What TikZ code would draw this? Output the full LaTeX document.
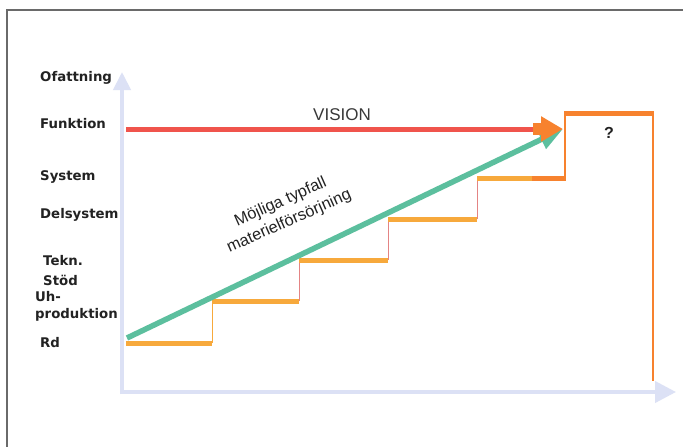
\documentclass[tikz,border=0pt]{standalone}
\usepackage{fontspec}
\setmainfont{Liberation Sans}
\newfontfamily\labfont{DejaVu Sans}
\usetikzlibrary{arrows.meta}
\definecolor{axiscol}{HTML}{DCE1F5}
\definecolor{treadcol}{HTML}{F7A93C}
\definecolor{boxcol}{HTML}{F7822E}
\definecolor{risercol}{HTML}{E48484}
\definecolor{visred}{HTML}{F0544C}
\definecolor{tealcol}{HTML}{5CBF9E}
\definecolor{framecol}{HTML}{6A6A6A}
\definecolor{txtcol}{HTML}{222222}
\begin{document}
\begin{tikzpicture}[x=1pt,y=-1pt,
  framel/.style={framecol, line width=1.2pt},
  axisline/.style={axiscol, line width=4pt},
  lab/.style={font=\labfont\bfseries\fontsize{13.3}{15}\selectfont, anchor=west, inner sep=0pt, text=txtcol},
  tread/.style={treadcol, line width=5pt},
  riserline/.style={risercol, line width=1pt},
  boxline/.style={boxcol, line width=2pt},
]
\useasboundingbox (0,0) rectangle (683,447);
\fill[white] (0,0) rectangle (683,447);
% frame
\coordinate (fA) at (7,447);
\coordinate (fB) at (7,10);
\coordinate (fC) at (683,10);
\draw[framel] (fA) -- (fB) -- (fC);
% axes
\coordinate (O) at (122,394);
\coordinate (Ytop) at (122,72);
\coordinate (Xst) at (120,392);
\coordinate (Xend) at (676,392);
\draw[axisline, -{Triangle[length=18pt,width=17pt]}] (O) -- (Ytop);
\draw[axisline, -{Triangle[length=21pt,width=21pt]}] (Xst) -- (Xend);
% staircase
\coordinate (s0) at (126,343);
\coordinate (s1) at (212,343);
\coordinate (s1u) at (212,301);
\coordinate (s2) at (299,301);
\coordinate (s2u) at (299,260);
\coordinate (s3) at (388,260);
\coordinate (s3u) at (388,219);
\coordinate (s4) at (477,219);
\coordinate (s4u) at (477,178);
\coordinate (s5a) at (532,178);
\coordinate (s5) at (565,178);
\coordinate (b1) at (565,113);
\coordinate (b2) at (653,113);
\coordinate (b3) at (653,381);
\draw[treadcol, line width=1pt] (s1) -- (s1u);
\draw[riserline] (s2) -- (s2u);
\draw[riserline] (s3) -- (s3u);
\draw[riserline] (s4) -- (s4u);
\draw[tread] (s0) -- (s1);
\draw[tread] (s1u) -- (s2);
\draw[tread] (s2u) -- (s3);
\draw[tread] (s3u) -- (s4);
\draw[tread] (s4u) -- (s5a);
\draw[boxcol, line width=5pt] (s5a) -- ([xshift=1pt]s5);
\draw[boxline] (s5) -- (b1);
\draw[boxcol, line width=5pt] ([xshift=-1pt]b1) -- ([xshift=1pt]b2);
\draw[boxline] (b2) -- (b3);
% green rising arrow
\coordinate (g0) at (127,338);
\coordinate (tip) at (563,129);
\draw[tealcol, line width=5.5pt, -{Triangle[length=24pt,width=20pt]}] (g0) -- (tip);
% vision line
\coordinate (r0) at (126,129);
\coordinate (r1) at (533,129);
\draw[visred, line width=5pt] (r0) -- (r1);
\draw[boxcol, line width=12pt, -{Triangle[length=22pt,width=24pt]}] (r1) -- (tip);
% texts
\node[font=\fontsize{17}{19}\selectfont, text=txtcol!90] (vision) at (342,115) {VISION};
\node[font=\bfseries\fontsize{16}{18}\selectfont, text=txtcol] (q) at (609,133) {?};
\node[font=\fontsize{16.3}{21}\selectfont, text=txtcol, align=center, rotate=24] (mt) at (285,212) {Möjliga typfall\\materielförsörjning};
\node[lab] (l1) at (40,78) {Ofattning};
\node[lab] (l2) at (40,124) {Funktion};
\node[lab] (l3) at (40,177) {System};
\node[lab] (l4) at (40,215) {Delsystem};
\node[lab] (l5) at (43,261) {Tekn.};
\node[lab] (l6) at (43,280) {Stöd};
\node[lab] (l7) at (35,297) {Uh-};
\node[lab] (l8) at (35,315) {produktion};
\node[lab] (l9) at (40,343) {Rd};
\end{tikzpicture}
\end{document}
